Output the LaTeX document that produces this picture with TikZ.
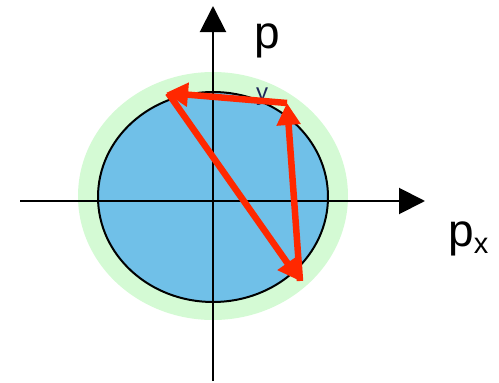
\documentclass[tikz,border=0pt]{standalone}
\usepackage{fontspec}
\setmainfont{Liberation Sans}
\usetikzlibrary{arrows.meta}
\definecolor{halo}{RGB}{212,250,212}
\definecolor{disc}{RGB}{112,192,232}
\definecolor{kick}{RGB}{255,40,0}
\definecolor{ink}{RGB}{30,40,90}
\begin{document}
\begin{tikzpicture}[x=1pt, y=-1pt,
            axis/.style={-{Triangle[length=26pt, width=26pt]}, line width=2pt},
            kickarr/.style={-{Triangle[length=22pt, width=23pt]}, kick, line width=6.5pt},
            lbl/.style={font=\fontsize{46}{46}\selectfont, inner sep=0pt}
        ]
        \useasboundingbox (0,0) rectangle (499,383);
        % --- phase space discs ---
        \fill[halo] (213,196) ellipse [x radius=135, y radius=124];
        \filldraw[fill=disc, draw=black, line width=2pt] (213,197) ellipse [x radius=115, y radius=105];

        % --- axes ---
        \coordinate (xl) at (20,201);
        \coordinate (xr) at (425,201);
        \coordinate (yb) at (213,381);
        \coordinate (yt) at (213,6);
        \draw[axis] (xl) -- (xr);
        \draw[axis] (yb) -- (yt);
        \node[lbl] (py) at (267,41) {p};
        \node[font=\fontsize{24}{24}\selectfont, text=ink, inner sep=0pt] (pysub) at (262,97) {y};
        \node[lbl, anchor=base west] (px) at (448,246) {p\raisebox{-7pt}{\fontsize{29}{29}\selectfont x}};

        % --- kicks ---
        \coordinate (ka) at (168,93);
        \coordinate (kb) at (287,103);
        \coordinate (kc) at (300,281);
        \draw[kickarr, shorten >=-2pt] (kb) -- (ka);
        \draw[kickarr] (kc) -- (kb);
        \draw[kickarr] (ka) -- (kc);
        \end{tikzpicture}
\end{document}
